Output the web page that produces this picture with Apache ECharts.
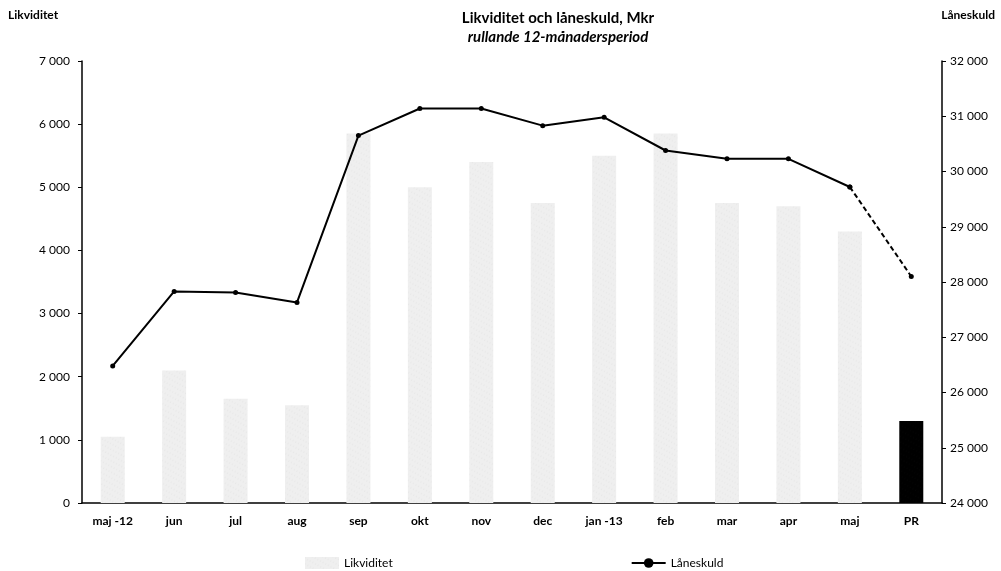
<!DOCTYPE html>
<html><head><meta charset="utf-8">
<script src="https://cdn.jsdelivr.net/npm/echarts@6/dist/echarts.min.js"></script>
<style>html,body{margin:0;padding:0;background:#fff}#c{width:1001px;height:571px}</style>
</head><body><div id="c"></div>
<script>
const categories = ['maj -12','jun','jul','aug','sep','okt','nov','dec','jan -13','feb','mar','apr','maj','PR'];
const likviditet = [1050, 2100, 1650, 1550, 5850, 5000, 5400, 4750, 5500, 5850, 4750, 4700, 4300, 1300];
const laneskuld = [26480, 27830, 27810, 27630, 30650, 31140, 31140, 30830, 30980, 30380, 30230, 30230, 29720, 28100];
const leftTicks = [0, 7000, 1000];
const rightTicks = [24000, 32000, 1000];

const fmt = v => String(v).replace(/\B(?=(\d{3})+(?!\d))/g, ' ');
const lastReal = 12;
const solidLine = laneskuld.map((v,i)=> i<=lastReal ? v : null);
const dashLine = laneskuld.map((v,i)=> i>=lastReal ? v : null);
const barData = likviditet.map((v,i)=> i===categories.length-1
  ? {value:v, itemStyle:{color:'#000', decal:null}} : v);

const FONT = 'Lato, "Open Sans", sans-serif';
const chart = echarts.init(document.getElementById('c'));
chart.setOption({
  animation:false,
  backgroundColor:'#fff',
  textStyle:{fontFamily:FONT, color:'#000'},
  title:{
    text:'Likviditet och låneskuld, Mkr',
    subtext:'rullande 12-månadersperiod',
    left:553, top:6, textAlign:'center', itemGap:4,
    textStyle:{fontSize:15, fontWeight:'bold', color:'#000', fontFamily:FONT},
    subtextStyle:{fontSize:15, fontWeight:'bold', fontStyle:'italic', color:'#000', fontFamily:FONT}
  },
  graphic:[
    {type:'text', left:8, top:9, style:{text:'Likviditet', fontSize:12, fontWeight:'bold', fill:'#000', fontFamily:FONT}},
    {type:'text', right:6, top:9, style:{text:'Låneskuld', fontSize:12, fontWeight:'bold', fill:'#000', fontFamily:FONT}}
  ],
  legend:{
    left:300, top:552, itemGap:238, itemWidth:34, itemHeight:12,
    textStyle:{fontSize:12, color:'#000', fontFamily:FONT},
    data:[{name:'Likviditet', icon:'rect'},{name:'Låneskuld'}]
  },
  grid:{left:82, right:59, top:61, bottom:68},
  xAxis:{
    type:'category', data:categories,
    axisLine:{lineStyle:{color:'#000', width:1.5}},
    axisTick:{show:false},
    axisLabel:{fontSize:12, fontWeight:'bold', color:'#000', margin:12, fontFamily:FONT}
  },
  yAxis:[
    {type:'value', min:leftTicks[0], max:leftTicks[1], interval:leftTicks[2], position:'left',
     splitLine:{show:false},
     axisLine:{show:true, lineStyle:{color:'#000', width:1.5}},
     axisTick:{show:true, length:4, lineStyle:{color:'#000'}},
     axisLabel:{fontSize:12, color:'#000', margin:12, formatter:fmt, fontFamily:FONT}},
    {type:'value', min:rightTicks[0], max:rightTicks[1], interval:rightTicks[2], position:'right',
     splitLine:{show:false},
     axisLine:{show:true, lineStyle:{color:'#000', width:1.5}},
     axisTick:{show:true, length:4, lineStyle:{color:'#000'}},
     axisLabel:{fontSize:12, color:'#000', margin:8, formatter:fmt, fontFamily:FONT}}
  ],
  series:[
    {name:'Likviditet', type:'bar', yAxisIndex:0, data:barData, barWidth:24,
     itemStyle:{color:'#efefef', decal:{symbol:'circle', symbolSize:0.6, color:'rgba(90,90,90,0.35)', dashArrayX:[1,2], dashArrayY:[2,3], rotation:0.5}}},
    {name:'Låneskuld', type:'line', yAxisIndex:1, data:solidLine, symbol:'circle', symbolSize:5,
     lineStyle:{color:'#000', width:2}, itemStyle:{color:'#000'}, z:5},
    {name:'LåneskuldPR', type:'line', yAxisIndex:1, data:dashLine, symbol:'circle', symbolSize:5,
     lineStyle:{color:'#000', width:2, type:[5,3]}, itemStyle:{color:'#000'}, z:5}
  ]
});
</script></body></html>
